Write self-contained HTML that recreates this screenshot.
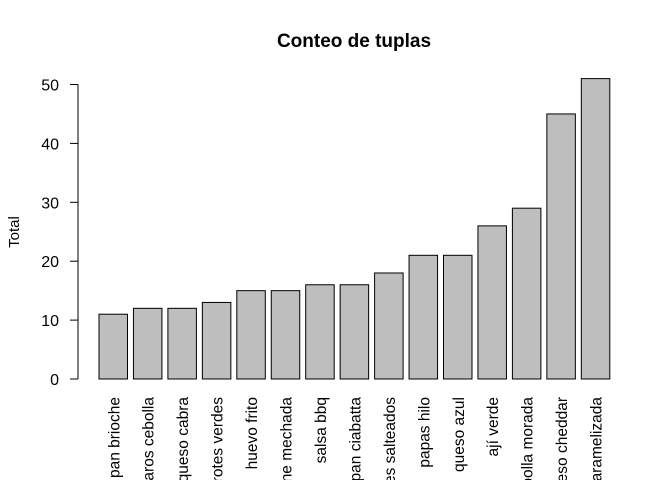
<!DOCTYPE html>
<html><head><meta charset="utf-8"><style>
html,body{margin:0;padding:0;background:#fff;overflow:hidden;width:672px;height:480px}
svg{display:block;font-family:"Liberation Sans",Arial,sans-serif}
</style></head><body>
<svg id="chart" width="672" height="480" viewBox="0 0 672 480" xmlns="http://www.w3.org/2000/svg">
<text x="354" y="47" text-anchor="middle" font-size="19" font-weight="bold">Conteo de tuplas</text>
<text transform="translate(19,232) rotate(-90)" text-anchor="middle" font-size="15">Total</text>
<g id="axis"></g><g id="bars"></g><g id="labels"></g>
</svg>
<script>
const categories = ["pan brioche","aros cebolla","queso cabra","brotes verdes","huevo frito","carne mechada","salsa bbq","pan ciabatta","champiñones salteados","papas hilo","queso azul","ají verde","cebolla morada","queso cheddar","cebolla caramelizada"];
const values = [11,12,12,13,15,15,16,16,18,21,21,26,29,45,51];
const yTicks = [0,10,20,30,40,50];
const NS="http://www.w3.org/2000/svg";
const y0=379, k=(379-84.5)/50;
const yScale=v=>y0-v*k;
const xLeft=i=>99+i*34.45;
const bw=28.5;
const axis=document.getElementById('axis'), bars=document.getElementById('bars'), labels=document.getElementById('labels');
function mk(tag,attrs){const e=document.createElementNS(NS,tag);for(const a in attrs)e.setAttribute(a,attrs[a]);return e;}
const al=mk('line',{x1:78,x2:78,y1:yScale(yTicks[0]),y2:yScale(yTicks[yTicks.length-1]),stroke:'#000'});


axis.appendChild(al);
yTicks.forEach(t=>{
  const l=mk('line',{x1:70,x2:78,y1:yScale(t),y2:yScale(t),stroke:'#000'});
  
  
  axis.appendChild(l);
  const tx=mk('text',{x:59,y:yScale(t)+6,'text-anchor':'end','font-size':'16'});
  
  
  tx.textContent=t;axis.appendChild(tx);
});
values.forEach((v,i)=>{
  const r=mk('rect',{x:xLeft(i),y:yScale(v),width:bw,height:y0-yScale(v),fill:'#bebebe',stroke:'#000','stroke-width':1});
  
  
  bars.appendChild(r);
  const cx=xLeft(i)+bw/2;
  const tx=mk('text',{transform:`translate(${cx+6},397) rotate(-90)`,'text-anchor':'end','font-size':'15.5'});
  
  
  tx.textContent=categories[i];labels.appendChild(tx);
});
</script>
</body></html>
